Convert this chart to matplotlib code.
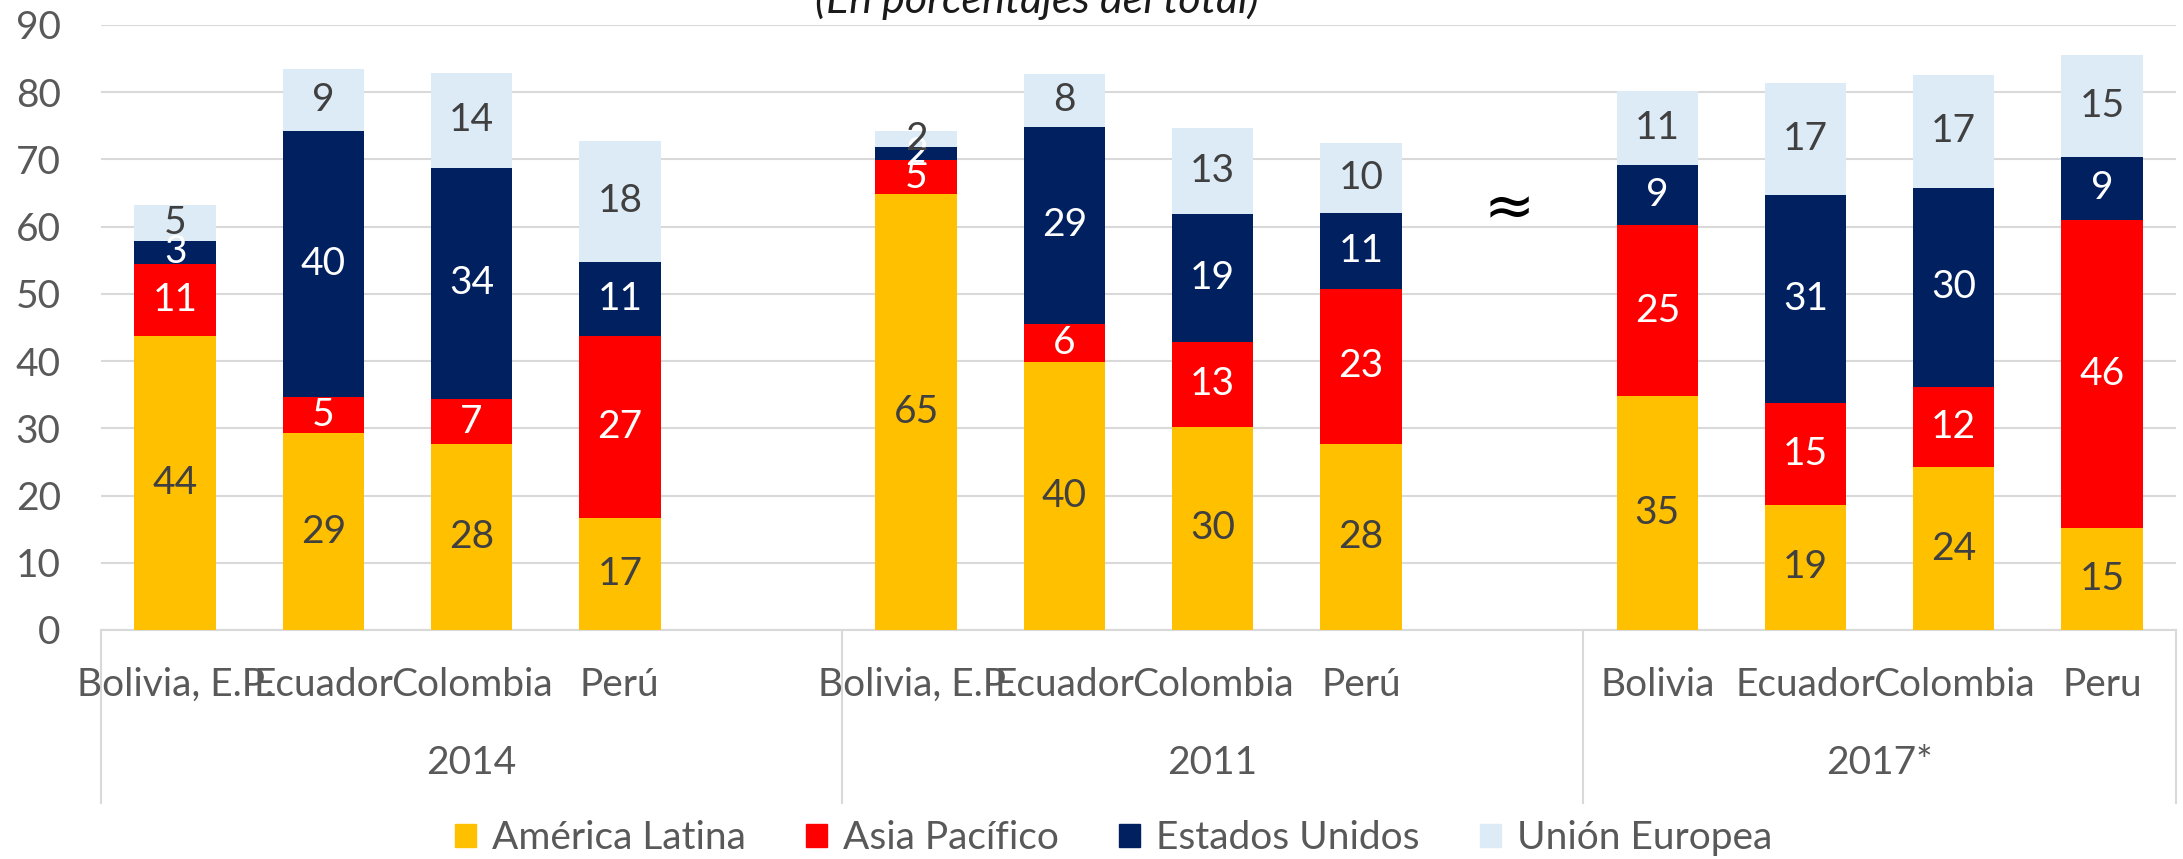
import matplotlib
matplotlib.use("Agg")
import matplotlib.pyplot as plt
from matplotlib.patches import Patch

plt.rcParams['font.family'] = ['Lato', 'DejaVu Sans']

# ── data (percent of total exports) ────────────────────────────────────────
groups = ["2014", "2011", "2017*"]
countries = [
    ["Bolivia, E.P.", "Ecuador", "Colombia", "Perú"],
    ["Bolivia, E.P.", "Ecuador", "Colombia", "Perú"],
    ["Bolivia", "Ecuador", "Colombia", "Peru"],
]
series_names = ["América Latina", "Asia Pacífico", "Estados Unidos", "Unión Europea"]
america_latina = [43.7, 29.3, 27.6, 16.6, 64.9, 39.9, 30.2, 27.7, 34.8, 18.6, 24.2, 15.1]
asia_pacifico = [10.8, 5.4, 6.8, 27.1, 5.0, 5.6, 12.7, 23.0, 25.4, 15.2, 11.9, 45.9]
estados_unidos = [3.4, 39.6, 34.4, 11.1, 1.9, 29.4, 19.0, 11.4, 9.0, 30.9, 29.7, 9.4]
union_europea = [5.3, 9.2, 14.0, 17.9, 2.4, 7.8, 12.8, 10.4, 11.0, 16.6, 16.8, 15.1]

colors = ['#FFC000', '#FF0000', '#002060', '#DDEBF7']
label_colors = ['#404040', 'white', 'white', '#404040']
GRID = '#D9D9D9'
TXT = '#595959'
FS = 28

# slot layout: each group has 5 slots (last one empty), final group 4
slots_per_group = 5
xpos = []
for g, names in enumerate(countries):
    for i in range(len(names)):
        xpos.append(g * slots_per_group + i + 0.5)
dividers = [0, 5, 10, 14]

fig = plt.figure(figsize=(21.83, 8.59), dpi=100)
ax = fig.add_axes([0.0463, 0.2666, 0.9505, 0.7043])

series = [america_latina, asia_pacifico, estados_unidos, union_europea]
bottom = [0.0] * len(xpos)
for vals, c, lc in zip(series, colors, label_colors):
    bars = ax.bar(xpos, vals, width=0.55, bottom=bottom, color=c, zorder=3)
    ax.bar_label(bars, labels=[f"{v:.0f}" for v in vals], label_type='center',
                 color=lc, fontsize=FS, zorder=4)
    bottom = [b + v for b, v in zip(bottom, vals)]

ax.set_xlim(0, 14)
ax.set_ylim(0, 90)
ax.set_yticks(range(0, 91, 10))
ax.yaxis.grid(True, color=GRID, lw=1.5, zorder=0)
ax.tick_params(axis='y', length=0, pad=29, labelsize=FS, labelcolor=TXT)
ax.set_xticks([])
for s in ['top', 'right', 'left']:
    ax.spines[s].set_visible(False)
ax.spines['bottom'].set_color(GRID)
ax.spines['bottom'].set_linewidth(1.5)

# multi-level category axis
xt = ax.get_xaxis_transform()
for x, name in zip(xpos, [n for grp in countries for n in grp]):
    ax.text(x, -0.091, name, transform=xt, ha='center', va='center',
            fontsize=FS, color=TXT)
for g, label in enumerate(groups):
    ax.text((dividers[g] + dividers[g + 1]) / 2, -0.22, label, transform=xt,
            ha='center', va='center', fontsize=FS, color=TXT)
for d in dividers:
    ax.plot([d, d], [0, -0.286], transform=xt, color=GRID, lw=1.5, clip_on=False)

# break marker between 2011 and 2017
ax.text(9.5, 62.5, "≈", ha='center', va='center', fontsize=44, color='black',
        family='DejaVu Sans')

fig.text(0.475, 1 - 13 / 859, "(En porcentajes del total)", ha='center',
         va='baseline', style='italic', fontsize=31, color='#1a1a1a')

handles = [Patch(color=c, label=n) for c, n in zip(colors, series_names)]
fig.legend(handles=handles, loc='center', bbox_to_anchor=(0.51, 0.0244), ncol=4,
           frameon=False, fontsize=FS, labelcolor=TXT, handlelength=0.55,
           handleheight=0.55, handletextpad=0.4, columnspacing=1.55,
           borderpad=0, borderaxespad=0)

fig.savefig("out.png", dpi=100)
